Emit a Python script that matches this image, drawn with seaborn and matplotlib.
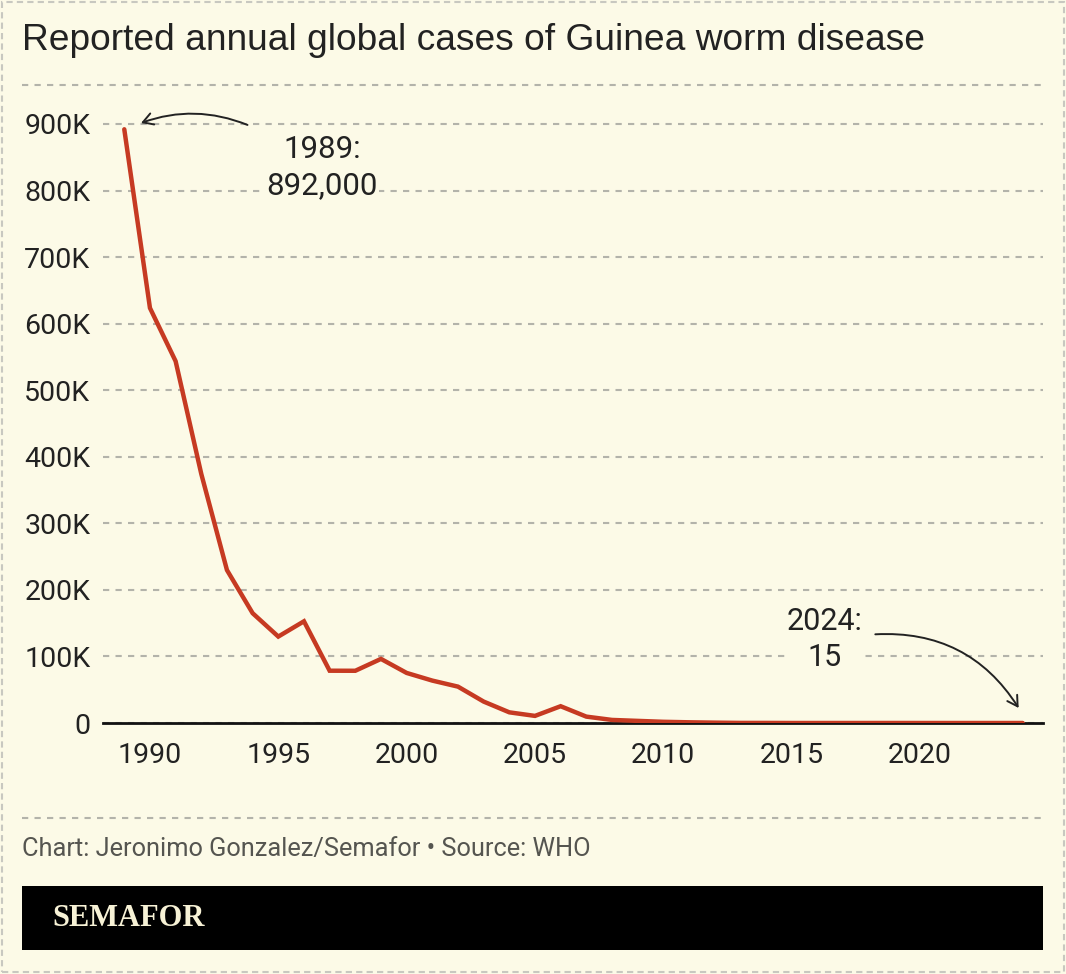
import matplotlib
matplotlib.use("Agg")
import matplotlib.pyplot as plt
from matplotlib.patches import Rectangle
from matplotlib.lines import Line2D
from matplotlib.ticker import FuncFormatter
import seaborn as sns
import pandas as pd

# --- data ---
years = list(range(1989, 2025))
cases = [892055, 623579, 543585, 374202, 229773, 164973, 129852, 152814,
         78557, 78477, 96293, 75223, 63717, 54638, 32193, 16026, 10674,
         25217, 9585, 4619, 3190, 1797, 1058, 542, 148, 126, 22, 25, 30,
         28, 54, 27, 15, 13, 14, 15]
y_ticks = [0, 100000, 200000, 300000, 400000, 500000, 600000, 700000, 800000, 900000]
x_ticks = [1990, 1995, 2000, 2005, 2010, 2015, 2020]

title = "Reported annual global cases of Guinea worm disease"
footer = "Chart: Jeronimo Gonzalez/Semafor \u2022 Source: WHO"

BG = "#fcfae7"
RED = "#c63a22"
GRID = "#b3b3aa"
INK = "#222222"

df = pd.DataFrame({"year": years, "cases": cases})

sns.set_theme(style="white", rc={"axes.facecolor": BG, "figure.facecolor": BG})
plt.rcParams["font.family"] = ["Roboto", "DejaVu Sans"]

fig = plt.figure(figsize=(10.66, 9.74), dpi=100)
ax = fig.add_axes([0.0966, 0.2577, 0.8818, 0.6355])

sns.lineplot(data=df, x="year", y="cases", ax=ax, color=RED, linewidth=3.2,
             solid_joinstyle="miter", zorder=4)

ax.set_xlim(1988.17, 2024.79)
ax.set_ylim(0, 930000)
ax.set_xticks(x_ticks)
ax.set_yticks(y_ticks)
ax.yaxis.set_major_formatter(FuncFormatter(lambda v, p: "0" if v == 0 else f"{int(v/1000)}K"))
ax.tick_params(axis="both", length=0, labelsize=20.5, colors=INK)
ax.tick_params(axis="y", pad=9)
ax.tick_params(axis="x", pad=14)
ax.set_xlabel("")
ax.set_ylabel("")

for s in ["top", "right", "left"]:
    ax.spines[s].set_visible(False)
ax.spines["bottom"].set_color("#111111")
ax.spines["bottom"].set_linewidth(2)
ax.spines["bottom"].set_zorder(3)

ax.yaxis.grid(True, color=GRID, linestyle=(0, (3, 3)), linewidth=1.5)
ax.set_axisbelow(True)

# --- annotations ---
ax.text(1996.7, 835000, "1989:\n892,000", ha="center", va="center", fontsize=22.5,
        color=INK, linespacing=1.3, zorder=5,
        bbox=dict(facecolor=BG, edgecolor="none", pad=1))
ax.annotate("", xy=(1989.55, 900000), xytext=(1993.9, 897000),
            arrowprops=dict(arrowstyle="->,head_length=0.6,head_width=0.35",
                            connectionstyle="arc3,rad=0.2", color=INK, lw=1.4))

ax.text(2016.3, 125000, "2024:\n15", ha="center", va="center", fontsize=22,
        color=INK, linespacing=1.3, zorder=5,
        bbox=dict(facecolor=BG, edgecolor="none", pad=1))
ax.annotate("", xy=(2023.9, 19000), xytext=(2018.15, 133000),
            arrowprops=dict(arrowstyle="->,head_length=0.6,head_width=0.35",
                            connectionstyle="arc3,rad=-0.3", color=INK, lw=1.4))

# --- header / footer ---
fig.text(22 / 1066, 1 - 40 / 974, title, ha="left", va="center", fontsize=26.7,
         color=INK, family=["Liberation Sans", "DejaVu Sans"])
fig.add_artist(Line2D([22 / 1066, 1043 / 1066], [1 - 85 / 974] * 2, color=GRID,
                      linestyle=(0, (3, 3)), linewidth=1.5))
fig.add_artist(Line2D([22 / 1066, 1043 / 1066], [1 - 818 / 974] * 2, color=GRID,
                      linestyle=(0, (3, 3)), linewidth=1.5))
fig.text(22 / 1066, 1 - 849 / 974, footer, ha="left", va="center", fontsize=18.3,
         color="#555550")
fig.add_artist(Rectangle((22 / 1066, 1 - 950 / 974), 1021 / 1066, 64 / 974,
                         transform=fig.transFigure, facecolor="black", edgecolor="none"))
fig.text(52 / 1066, 1 - 918 / 974, "SEMAFOR", ha="left", va="center", fontsize=22,
         fontweight="bold", color="#f7f2d6", family=["Liberation Serif", "DejaVu Serif"])
fig.add_artist(Rectangle((2 / 1066, 2 / 974), 1062 / 1066, 970 / 974,
                         transform=fig.transFigure, facecolor="none", edgecolor="#c8c8c0",
                         linestyle=(0, (3, 2)), linewidth=1.5))

fig.savefig("out.png", dpi=100, facecolor=BG)
